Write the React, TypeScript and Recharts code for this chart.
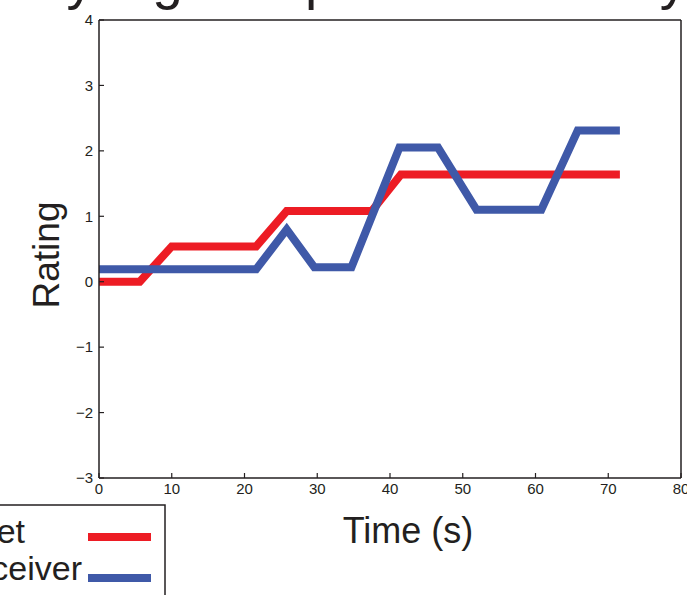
import React from "react";
import {
  LineChart,
  Line,
  XAxis,
  YAxis,
  Customized,
} from "recharts";

// ratings (time in s)
const targetTime = [0, 5.6, 10.0, 21.6, 25.8, 37.5, 41.5, 71.6];
const targetRating = [0, 0, 0.54, 0.54, 1.08, 1.08, 1.64, 1.64];

const receiverTime = [0, 21.6, 25.8, 29.6, 34.7, 41.3, 46.6, 51.9, 60.8, 65.8, 71.6];
const receiverRating = [0.19, 0.19, 0.8, 0.22, 0.22, 2.05, 2.05, 1.1, 1.1, 2.31, 2.31];

const xTicks = [0, 10, 20, 30, 40, 50, 60, 70, 80];
const yTicks = [-3, -2, -1, 0, 1, 2, 3, 4];

const seriesNames = ["Target", "Receiver"];
const titleText = "Very high empathic accuracy";

const RED = "#ED1C24";
const BLUE = "#3F59A8";
const INK = "#231F20";
const FONT = "'Liberation Sans', Arial, Helvetica, sans-serif";

const targetData = targetTime.map((t, i) => ({ t, v: targetRating[i] }));
const receiverData = receiverTime.map((t, i) => ({ t, v: receiverRating[i] }));

const fmt = (v: number) => String(v).replace("-", "\u2212");

const Decorations = () => (
  <g fontFamily={FONT} fill={INK}>
    {/* title, mostly cut off by the top edge */}
    <text x={-16} y={-2} fontSize={55}>
      {titleText}
    </text>
    <text x={408} y={543} fontSize={36} textAnchor="middle">
      Time (s)
    </text>
    <text
      x={59}
      y={255}
      fontSize={37}
      textAnchor="middle"
      transform="rotate(-90 59 255)"
    >
      Rating
    </text>
    {/* legend box */}
    <rect x={-10} y={505} width={175} height={120} fill="#fff" stroke={INK} strokeWidth={1.5} />
    <text x={25} y={543} fontSize={34} textAnchor="end">
      {seriesNames[0]}
    </text>
    <line x1={88} x2={151} y1={537} y2={537} stroke={RED} strokeWidth={8} />
    <text x={82} y={580} fontSize={34} textAnchor="end">
      {seriesNames[1]}
    </text>
    <line x1={88} x2={151} y1={578} y2={578} stroke={BLUE} strokeWidth={8} />
  </g>
);

const tickStyle = { fontSize: 15, fill: INK, fontFamily: FONT };
const axisLine = { stroke: INK, strokeWidth: 1.5 };
const tickLine = { stroke: INK, strokeWidth: 1.2 };

export default function App() {
  return (
    <div style={{ position: "absolute", left: 0, top: 0, width: 687, height: 595, background: "#fff" }}>
      <LineChart
        width={687}
        height={595}
        margin={{ top: 19, right: 5, left: 98, bottom: 116 }}
      >
        <XAxis
          xAxisId="b"
          type="number"
          dataKey="t"
          domain={[0, 80]}
          ticks={xTicks}
          tickFormatter={fmt}
          height={1}
          tickSize={-5}
          tickMargin={10}
          tick={tickStyle}
          axisLine={axisLine}
          tickLine={tickLine}
          interval={0}
        />
        <XAxis
          xAxisId="top"
          orientation="top"
          type="number"
          domain={[0, 80]}
          ticks={xTicks}
          height={1}
          tickSize={-5}
          tick={false}
          axisLine={axisLine}
          tickLine={tickLine}
        />
        <YAxis
          yAxisId="l"
          type="number"
          domain={[-3, 4]}
          ticks={yTicks}
          tickFormatter={fmt}
          width={1}
          tickSize={-5}
          tickMargin={11}
          tick={tickStyle}
          axisLine={axisLine}
          tickLine={tickLine}
          interval={0}
        />
        <YAxis
          yAxisId="r"
          orientation="right"
          type="number"
          domain={[-3, 4]}
          ticks={yTicks}
          width={1}
          tickSize={-5}
          tick={false}
          axisLine={axisLine}
          tickLine={tickLine}
        />
        <Line
          xAxisId="b"
          yAxisId="l"
          data={targetData}
          dataKey="v"
          name={seriesNames[0]}
          type="linear"
          stroke={RED}
          strokeWidth={8}
          dot={false}
          isAnimationActive={false}
        />
        <Line
          xAxisId="b"
          yAxisId="l"
          data={receiverData}
          dataKey="v"
          name={seriesNames[1]}
          type="linear"
          stroke={BLUE}
          strokeWidth={8}
          dot={false}
          isAnimationActive={false}
        />
        <Customized component={Decorations} />
      </LineChart>
    </div>
  );
}
